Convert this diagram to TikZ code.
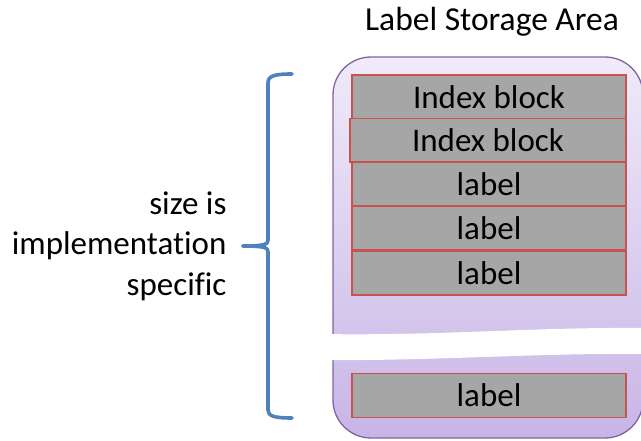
\documentclass[tikz,border=0pt]{standalone}
\usepackage{fontspec}
\setmainfont{Carlito}[Ligatures=NoCommon]
\usepackage{tikz}
\usetikzlibrary{positioning}

\definecolor{cellgray}{RGB}{166,166,166}
\definecolor{cellred}{RGB}{200,82,78}
\definecolor{areapurple}{RGB}{128,100,162}
\definecolor{areatop}{RGB}{240,234,249}
\definecolor{areabottom}{RGB}{200,181,230}
\definecolor{braceblue}{RGB}{79,129,189}

\begin{document}
\begin{tikzpicture}[x=1pt,y=1pt]
		\tikzstyle{cell} = [draw=cellred, line width=1.4pt, fill=cellgray, minimum width=274pt, minimum height=44pt, inner sep=0pt, font=\fontsize{33}{40}\selectfont]
		\tikzstyle{brace line} = [draw=braceblue, line width=3.6pt, line cap=round, line join=round]

		\useasboundingbox (0,0) rectangle (641,440);

		\node (title) at (492,418) {\fontsize{33.5}{40}\selectfont Label Storage Area};

		\draw[draw=areapurple, line width=1.3pt, rounded corners=38pt, top color=areatop, bottom color=areabottom] (333,2) rectangle (643,383);

		\fill[white] (320,106) .. controls (440,104) and (530,113) .. (645,112) -- (645,86) .. controls (530,87) and (440,79) .. (320,80) -- cycle;

		\foreach \x/\y/\w/\t/\n in {489/343/274/Index block/ib1, 488/299.5/276/Index block/ib2, 489/256/274/label/lb1, 489/212/274/label/lb2, 489/167/274/label/lb3, 489/44.5/274/label/lb4}
		{
			\node[cell, minimum width=\w pt] (\n) at (\x,\y) {\t};
		}

		\node[align=right, anchor=east, font=\fontsize{33}{40.5}\selectfont] (size) at (230,194) {size is\\implementation\\specific};

		\coordinate (bracetop) at (292,366);
		\coordinate (bracebot) at (292,22);
		\coordinate (bracetip) at (243,194);

		\draw[brace line] (bracetop) .. controls (274,366) and (268,364) .. (268,357) -- (268,200) .. controls (268,196) and (266,194) .. (bracetip);
		\draw[brace line] (bracetip) .. controls (266,194) and (268,192) .. (268,188) -- (268,30) .. controls (268,24) and (274,22) .. (bracebot);

	\end{tikzpicture}
\end{document}
